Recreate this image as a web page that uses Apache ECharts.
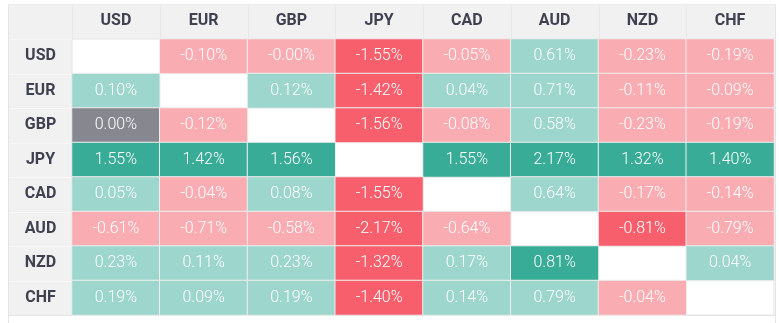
<!DOCTYPE html>
<html>
<head>
<meta charset="utf-8">
<script src="https://cdn.jsdelivr.net/npm/echarts@6/dist/echarts.min.js"></script>
<style>
  html, body { margin: 0; padding: 0; background: #fff; }
  #chart { width: 779px; height: 323px; }
</style>
</head>
<body>
<div id="chart"></div>
<script>
// Currency strength matrix: percentage change of the row currency against the column currency.
var currencies = ['USD', 'EUR', 'GBP', 'JPY', 'CAD', 'AUD', 'NZD', 'CHF'];

var usdRow = [null, -0.10, -0.001, -1.55, -0.05, 0.61, -0.23, -0.19];
var eurRow = [0.10, null, 0.12, -1.42, 0.04, 0.71, -0.11, -0.09];
var gbpRow = [0.00, -0.12, null, -1.56, -0.08, 0.58, -0.23, -0.19];
var jpyRow = [1.55, 1.42, 1.56, null, 1.55, 2.17, 1.32, 1.40];
var cadRow = [0.05, -0.04, 0.08, -1.55, null, 0.64, -0.17, -0.14];
var audRow = [-0.61, -0.71, -0.58, -2.17, -0.64, null, -0.81, -0.79];
var nzdRow = [0.23, 0.11, 0.23, -1.32, 0.17, 0.81, null, 0.04];
var chfRow = [0.19, 0.09, 0.19, -1.40, 0.14, 0.79, -0.04, null];

var rows = [usdRow, eurRow, gbpRow, jpyRow, cadRow, audRow, nzdRow, chfRow];

// heatmap cells as [column, row, value]; the diagonal stays empty
var cells = [];
rows.forEach(function (row, r) {
  row.forEach(function (v, c) {
    if (v !== null) cells.push([c, r, v]);
  });
});

// table frame
var G = { left: 72, top: 39, width: 702, height: 276 };
var headerBg = '#f1f1f1';
var frame = '#e4e4e4';

var graphics = [
  { type: 'rect', shape: { x: 9, y: 4, width: 766, height: 35 }, style: { fill: headerBg }, silent: true, z: -1 },
  { type: 'rect', shape: { x: 9, y: 39, width: 63, height: 276 }, style: { fill: headerBg }, silent: true, z: -1 },
  { type: 'line', shape: { x1: 8.5, y1: 4, x2: 8.5, y2: 323 }, style: { stroke: frame, lineWidth: 1 }, silent: true },
  { type: 'line', shape: { x1: 775.5, y1: 4, x2: 775.5, y2: 323 }, style: { stroke: frame, lineWidth: 1 }, silent: true },
  { type: 'line', shape: { x1: 8, y1: 4.5, x2: 776, y2: 4.5 }, style: { stroke: '#ececec', lineWidth: 1 }, silent: true },
  { type: 'line', shape: { x1: 8, y1: 315.5, x2: 776, y2: 315.5 }, style: { stroke: frame, lineWidth: 1 }, silent: true }
];
// faint separators inside the header row and the row-label column
for (var i = 0; i < 8; i++) {
  var x = Math.round(G.left + i * G.width / 8) + 0.5;
  graphics.push({ type: 'line', shape: { x1: x, y1: 5, x2: x, y2: 39 }, style: { stroke: '#e9e9e9', lineWidth: 1 }, silent: true });
  var y = Math.round(G.top + i * G.height / 8) + 0.5;
  graphics.push({ type: 'line', shape: { x1: 9, y1: y, x2: 72, y2: y }, style: { stroke: '#f8f8f8', lineWidth: 1 }, silent: true });
}

var chart = echarts.init(document.getElementById('chart'), null, { renderer: 'canvas' });
chart.setOption({
  animation: false,
  backgroundColor: '#ffffff',
  textStyle: { fontFamily: 'Roboto' },
  graphic: graphics,
  grid: {
    left: G.left, top: G.top, width: G.width, height: G.height,
    show: true, backgroundColor: '#ffffff', borderColor: frame, borderWidth: 1
  },
  xAxis: {
    type: 'category',
    position: 'top',
    data: currencies,
    axisLine: { show: false },
    axisTick: { show: false },
    splitArea: { show: false },
    axisLabel: {
      margin: 10,
      color: '#3f4150',
      fontSize: 16,
      fontWeight: 'bold',
      fontFamily: 'Roboto'
    }
  },
  yAxis: {
    type: 'category',
    inverse: true,
    data: currencies,
    axisLine: { show: false },
    axisTick: { show: false },
    axisLabel: {
      margin: 31.5,
      align: 'center',
      color: '#3f4150',
      fontSize: 16,
      fontWeight: 'bold',
      fontFamily: 'Roboto'
    }
  },
  visualMap: {
    type: 'piecewise',
    show: false,
    dimension: 2,
    seriesIndex: 0,
    pieces: [
      { lt: -0.8, color: '#f75f6d' },
      { gte: -0.8, lt: 0, color: '#f9adb3' },
      { value: 0, color: '#86878f' },
      { gt: 0, lt: 0.8, color: '#9dd6cc' },
      { gte: 0.8, color: '#38ac97' }
    ]
  },
  series: [{
    type: 'heatmap',
    data: cells,
    itemStyle: { borderColor: '#eeeeee', borderWidth: 1 },
    label: {
      show: true,
      color: '#ffffff',
      fontSize: 16,
      fontWeight: 300,
      fontFamily: 'Roboto',
      formatter: function (p) { return p.value[2].toFixed(2) + '%'; }
    },
    emphasis: { disabled: true }
  }]
});
</script>
</body>
</html>
